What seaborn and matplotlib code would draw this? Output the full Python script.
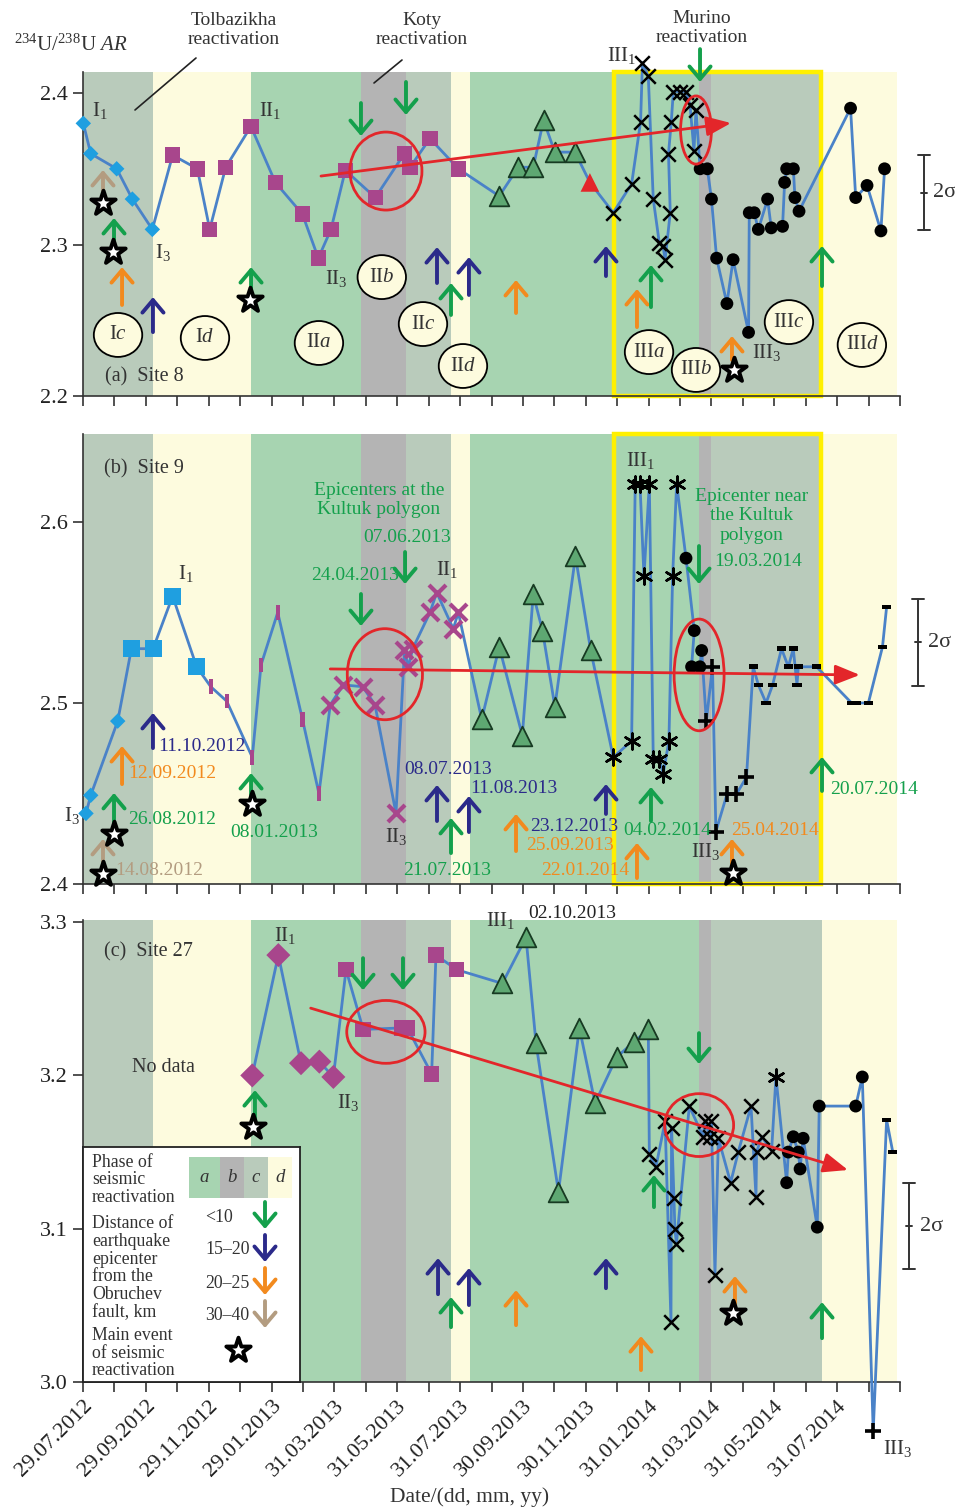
import numpy as np
import matplotlib
matplotlib.use("Agg")
import matplotlib.pyplot as plt
import seaborn as sns
from matplotlib.patches import Ellipse, Rectangle
from matplotlib.path import Path
from matplotlib.lines import Line2D

sns.set_style("ticks")
plt.rcParams.update({
    "font.family": ["Liberation Serif", "DejaVu Serif"],
    "mathtext.fontset": "custom",
    "mathtext.rm": "Liberation Serif",
    "mathtext.it": "Liberation Serif:italic",
    "mathtext.bf": "Liberation Serif:bold",
    "axes.edgecolor": "#333333",
})

# ---------------------------------------------------------------------------
# Time axis: days counted from 29.07.2012, tick every month, label every 2nd
# ---------------------------------------------------------------------------
X_MAX = 793
TICK_STEP = 30.5
TICK_LABELS = ["29.07.2012", "29.09.2012", "29.11.2012", "29.01.2013", "31.03.2013",
               "31.05.2013", "31.07.2013", "30.09.2013", "30.11.2013", "31.01.2014",
               "31.03.2014", "31.05.2014", "31.07.2014"]

# Phases of seismic reactivation (a, b, c, d) along the time axis
PHASE_EDGES = [0, 68, 163, 270, 313.5, 357, 375.6, 598, 609.5, 717, 790]
PHASE_CODE = ["c", "d", "a", "b", "c", "d", "a", "b", "c", "d"]
MURINO_SPAN = [515.4, 716.3]

# ---------------------------------------------------------------------------
# Site 8: 234U/238U activity ratio
# ---------------------------------------------------------------------------
S8_DIAM_DAY = [0.3, 7.5, 32.7, 47.9, 67.3]
S8_DIAM_VAL = [2.380, 2.360, 2.350, 2.330, 2.310]
S8_SQ_DAY = [87, 111, 123, 138.5, 163, 186.7, 213, 228.4, 240.7, 254.6, 283.7, 311.9, 317.4, 336.8, 364.3]
S8_SQ_VAL = [2.359, 2.350, 2.310, 2.351, 2.378, 2.341, 2.320, 2.291, 2.310, 2.349, 2.331, 2.360, 2.351, 2.370, 2.350]
S8_TRI_DAY = [404, 422.5, 437, 447, 458, 477.5]
S8_TRI_VAL = [2.332, 2.351, 2.351, 2.382, 2.361, 2.361]
S8_RTRI_DAY = [492]
S8_RTRI_VAL = [2.341]
S8_X_DAY = [514.7, 532.5, 541.2, 543, 548.7, 553.5, 559.4, 563, 565, 570, 568.3, 571, 573, 579.5, 585.4, 589.2, 593, 595]
S8_X_VAL = [2.321, 2.340, 2.381, 2.420, 2.411, 2.330, 2.301, 2.299, 2.290, 2.321, 2.360, 2.381, 2.401, 2.401, 2.401, 2.392, 2.362, 2.389]
S8_DOT_DAY = [599, 606, 610, 615, 625, 631, 646, 646.7, 651.5, 655.5, 664.5, 668, 679, 681, 683, 689.5, 691, 695,
              745, 750, 761, 774.5, 778]
S8_DOT_VAL = [2.350, 2.350, 2.330, 2.291, 2.261, 2.290, 2.242, 2.321, 2.321, 2.310, 2.330, 2.311, 2.312, 2.341, 2.350,
              2.350, 2.331, 2.322, 2.390, 2.331, 2.339, 2.309, 2.350]

# ---------------------------------------------------------------------------
# Site 9
# ---------------------------------------------------------------------------
S9_DIAM_DAY = [2.9, 7.5, 33.7]
S9_DIAM_VAL = [2.439, 2.449, 2.490]
S9_SQ_DAY = [47, 68, 87, 110.3]
S9_SQ_VAL = [2.530, 2.530, 2.559, 2.520]
S9_VBAR_DAY = [124, 139.5, 164.3, 172.8, 189, 213, 229]
S9_VBAR_VAL = [2.509, 2.501, 2.470, 2.521, 2.550, 2.491, 2.450]
S9_MX_DAY = [240, 252.7, 271.5, 283.4, 303.8, 312, 315.7, 320, 336.8, 343.3, 359.4, 364.3]
S9_MX_VAL = [2.499, 2.510, 2.509, 2.499, 2.439, 2.529, 2.520, 2.530, 2.550, 2.561, 2.541, 2.550]
S9_TRI_DAY = [387, 404, 426.4, 437, 446, 458, 478, 492.8]
S9_TRI_VAL = [2.491, 2.531, 2.482, 2.560, 2.540, 2.498, 2.581, 2.529]
S9_AST_DAY = [514.7, 532.5, 536, 540.6, 544.5, 549.7, 553.5, 559.4, 563.2, 568.7, 572.3, 576.2]
S9_AST_VAL = [2.470, 2.479, 2.621, 2.621, 2.570, 2.621, 2.469, 2.469, 2.461, 2.479, 2.570, 2.621]
S9_DOT_DAY = [585.3, 593.3, 590.7, 598.8, 600.5]
S9_DOT_VAL = [2.580, 2.540, 2.520, 2.520, 2.529]
S9_PLUS_DAY = [605, 611, 614.3, 625, 634, 644]
S9_PLUS_VAL = [2.490, 2.520, 2.429, 2.4495, 2.4495, 2.459]
S9_HBAR_DAY = [650.5, 655.5, 663, 669.4, 678, 684.6, 689.4, 693, 694.3, 712, 746, 751, 762.3, 776, 780]
S9_HBAR_VAL = [2.520, 2.510, 2.500, 2.510, 2.530, 2.520, 2.530, 2.510, 2.520, 2.520, 2.500, 2.500, 2.500, 2.531, 2.553]

# ---------------------------------------------------------------------------
# Site 27
# ---------------------------------------------------------------------------
S27_DIAM_DAY = [164.3, 189.6, 211.6, 229.4, 243]
S27_DIAM_VAL = [3.200, 3.2785, 3.208, 3.209, 3.199]
S27_SQ_DAY = [255.3, 272, 309.3, 314.8, 338.4, 342.6, 362.7]
S27_SQ_VAL = [3.269, 3.230, 3.231, 3.231, 3.201, 3.2785, 3.269]
S27_TRI_DAY = [407, 430, 439.7, 461.5, 481.8, 497, 518, 535, 548.7]
S27_TRI_VAL = [3.260, 3.290, 3.221, 3.124, 3.231, 3.182, 3.212, 3.222, 3.230]
S27_X_DAY = [549.7, 556, 565, 570.7, 571.3, 573.6, 574.5, 576, 588.5, 602, 603.6, 608.6, 610, 613.4, 616.7, 628.6,
             636, 648.4, 653.2, 653.8, 658.7, 668.4]
S27_X_VAL = [3.149, 3.140, 3.170, 3.039, 3.166, 3.120, 3.100, 3.090, 3.180, 3.160, 3.170, 3.160, 3.170, 3.070, 3.159,
             3.130, 3.150, 3.180, 3.121, 3.150, 3.160, 3.151]
S27_AST_DAY = [672.6]
S27_AST_VAL = [3.199]
S27_DOT_DAY = [683, 684.6, 689.4, 694.3, 696, 699, 712.7, 714.6, 750, 756.4]
S27_DOT_VAL = [3.130, 3.150, 3.160, 3.150, 3.139, 3.159, 3.101, 3.180, 3.180, 3.199]
S27_PLUS_DAY = [767]
S27_PLUS_VAL = [2.968]
S27_HBAR_DAY = [780, 786]
S27_HBAR_VAL = [3.171, 3.150]

# ---------------------------------------------------------------------------
# Earthquakes: day, arrow tail / tip level, distance class (km)
# ---------------------------------------------------------------------------
EQ8_DAY = [19.4, 30.1, 37.9, 67.9, 163.1, 269.8, 313.5, 343.6, 374.6, 357.2, 420.3, 507.6, 537.7, 551.3, 598.9, 629.9, 717.3]
EQ8_TAIL = [2.3314, 2.2997, 2.2601, 2.2422, 2.2667, 2.3934, 2.4073, 2.2746, 2.2667, 2.2535, 2.2548, 2.2792, 2.2455,
            2.2587, 2.4290, 2.2238, 2.2726]
EQ8_TIP = [2.3492, 2.3175, 2.2851, 2.2653, 2.2851, 2.3716, 2.3855, 2.2983, 2.2917, 2.2746, 2.2766, 2.2990, 2.2706,
           2.2865, 2.4073, 2.2396, 2.2990]
EQ_CLS = ["30–40", "<10", "20–25", "15–20", "<10", "<10", "<10", "15–20", "15–20", "<10", "20–25", "15–20", "20–25",
          "<10", "<10", "20–25", "<10"]

EQ9_DAY = [19.4, 30.1, 37.9, 67.9, 163.1, 269.8, 312.6, 343.6, 374.6, 357.2, 420.3, 507.6, 537.7, 551.3, 597.9, 629.9, 717.3]
EQ9_TAIL = [2.4088, 2.4282, 2.4552, 2.4751, 2.4420, 2.5602, 2.5834, 2.4348, 2.4287, 2.4171, 2.4182, 2.4387, 2.4033,
            2.4348, 2.5867, 2.4088, 2.4514]
EQ9_TIP = [2.4249, 2.4503, 2.4762, 2.4945, 2.4613, 2.5425, 2.5657, 2.4547, 2.4486, 2.4365, 2.4387, 2.4552, 2.4227,
           2.4536, 2.5657, 2.4249, 2.4702]

EQ27_DAY = [166.9, 271.8, 310.6, 344.6, 374.6, 357.2, 420.3, 507.6, 541.6, 554.2, 597.9, 632.8, 717.3]
EQ27_TAIL = [3.1708, 3.2765, 3.2765, 3.0573, 3.0502, 3.0358, 3.0371, 3.0612, 3.0078, 3.1141, 3.2276, 3.0502, 3.0286]
EQ27_TIP = [3.1904, 3.2556, 3.2556, 3.0808, 3.0743, 3.0554, 3.0599, 3.0808, 3.0299, 3.1350, 3.2074, 3.0691, 3.0521]
EQ27_CLS = ["<10", "<10", "<10", "15–20", "15–20", "<10", "20–25", "15–20", "20–25", "<10", "<10", "20–25", "<10"]

# Main events of seismic reactivation
STAR8_DAY = [19.4, 29.1, 162.1, 631.9]
STAR8_VAL = [2.3274, 2.295, 2.2634, 2.2172]
STAR9_DAY = [19.4, 30.1, 164, 630.9]
STAR9_VAL = [2.4055, 2.4276, 2.4442, 2.4061]
STAR27_DAY = [165, 630.9]
STAR27_VAL = [3.1663, 3.0449]

# Trend arrows (start, end) and highlighted groups (centre day, centre value, width, height)
TREND8_DAY, TREND8_VAL = [231, 629], [2.3452, 2.3802]
TREND9_DAY, TREND9_VAL = [240, 754], [2.5188, 2.5155]
TREND27_DAY, TREND27_VAL = [221, 742.5], [3.2439, 3.1383]
RING8 = [(294, 2.3485, 70, 0.0515), (595, 2.3756, 30, 0.045)]
RING9 = [(293, 2.5159, 73, 0.0503), (598, 2.5155, 48.5, 0.0617)]
RING27 = [(294, 3.2284, 76, 0.041), (598, 3.1676, 67, 0.041)]

# ---------------------------------------------------------------------------
# Styles
# ---------------------------------------------------------------------------
LINE_BLUE = "#4a82c8"
SKY = "#1f9fe0"
MAG = "#a8468c"
TRI_GREEN = "#5ea872"
RED = "#e3262a"
TXT = "#333333"
PHASE_COLOR = {"a": "#a7d4b1", "b": "#b4b4b4", "c": "#b9cbbb", "d": "#fdfbde"}
CLASS_COLOR = {"<10": "#14a04c", "15–20": "#2b2a8a", "20–25": "#f28a1e", "30–40": "#b39c80"}

_codes = [Path.MOVETO, Path.LINETO, Path.LINETO, Path.LINETO, Path.CLOSEPOLY]
HBAR_PATH = Path([(-1, -0.5), (1, -0.5), (1, 0.5), (-1, 0.5), (-1, -0.5)], _codes)
VBAR_PATH = Path([(-0.3, -1), (0.3, -1), (0.3, 1), (-0.3, 1), (-0.3, -1)], _codes)

STYLES = {
    "blue_diamond": dict(marker="D", s=62, color=SKY, edgecolors="none"),
    "blue_square": dict(marker="s", s=150, color=SKY, edgecolors="none"),
    "mag_square": dict(marker="s", s=125, color=MAG, edgecolors="none"),
    "mag_diamond": dict(marker="D", s=150, color=MAG, edgecolors="none"),
    "mag_bar": dict(marker=VBAR_PATH, s=110, color=MAG, edgecolors="none"),
    "mag_x": dict(marker="x", s=150, color=MAG, linewidths=3),
    "tri": dict(marker="^", s=200, facecolors=TRI_GREEN, edgecolors="#173a22", linewidths=1.3),
    "red_tri": dict(marker="^", s=180, color=RED, edgecolors="none"),
    "x": dict(marker="x", s=110, color="black", linewidths=1.8),
    "ast": dict(marker=(6, 2, 0), s=130, color="black", linewidths=1.8),
    "dot": dict(marker="o", s=85, color="black", edgecolors="none"),
    "plus": dict(marker="+", s=120, color="black", linewidths=2.6),
    "hbar": dict(marker=HBAR_PATH, s=45, color="black", edgecolors="none"),
}

W, H = 955, 1510
fig = plt.figure(figsize=(W / 100, H / 100), dpi=100)


def box(l, t, r, b):
    return [l / W, 1 - b / H, (r - l) / W, (b - t) / H]


def fpos(x, y):
    return x / W, 1 - y / H


ax_a = fig.add_axes(box(83, 72, 900, 396))
ax_b = fig.add_axes(box(83, 434, 900, 884))
ax_c = fig.add_axes(box(83, 920, 900, 1382))


def draw_panel(ax, series, ylim, yticks, labels_on):
    for x0, x1, code in zip(PHASE_EDGES[:-1], PHASE_EDGES[1:], PHASE_CODE):
        ax.axvspan(x0, x1, color=PHASE_COLOR[code], lw=0, zorder=0)
    days = np.concatenate([np.asarray(d, float) for _, d, _ in series])
    vals = np.concatenate([np.asarray(v, float) for _, _, v in series])
    sns.lineplot(x=days, y=vals, sort=False, estimator=None, color=LINE_BLUE, lw=2.0, ax=ax, zorder=3)
    ax.lines[-1].set_clip_on(False)
    for key, d, v in series:
        ax.scatter(d, v, zorder=4, clip_on=False, **STYLES[key])
    ax.set_xlim(0, X_MAX)
    ax.set_ylim(*ylim)
    ax.set_xlabel("")
    ax.set_ylabel("")
    ticks = np.arange(27) * TICK_STEP
    if labels_on:
        labs = [TICK_LABELS[i // 2] if (i % 2 == 0 and i // 2 < len(TICK_LABELS)) else "" for i in range(len(ticks))]
    else:
        labs = [""] * len(ticks)
    ax.set_xticks(ticks, labs)
    ax.set_yticks(yticks, [f"{v:.1f}" for v in yticks])
    ax.tick_params(axis="both", direction="out", length=7, width=1.2, color="#333333",
                   labelcolor="#222222", labelsize=16)
    ax.tick_params(axis="y", pad=4)
    for lab in ax.get_xticklabels():
        lab.set_rotation(45)
        lab.set_ha("right")
        lab.set_va("top")
        lab.set_rotation_mode("anchor")
    for side in ("top", "right"):
        ax.spines[side].set_visible(False)
    for side in ("left", "bottom"):
        ax.spines[side].set_linewidth(1.2)


def draw_events(ax, days, tails, tips, classes):
    for d, t0, t1, cls in zip(days, tails, tips, classes):
        ax.annotate("", xy=(d, t1), xytext=(d, t0), annotation_clip=False, zorder=5,
                    arrowprops=dict(arrowstyle="->,head_length=0.45,head_width=0.38",
                                    color=CLASS_COLOR[cls], lw=2.8, shrinkA=0, shrinkB=0,
                                    mutation_scale=20))


def draw_stars(ax, days, vals):
    ax.scatter(days, vals, marker="*", s=340, facecolors="white", edgecolors="black",
               linewidths=2.8, zorder=6, clip_on=False)


def draw_trend(ax, days, vals, rings):
    ax.annotate("", xy=(days[1], vals[1]), xytext=(days[0], vals[0]), annotation_clip=False, zorder=6,
                arrowprops=dict(arrowstyle="-|>,head_length=0.75,head_width=0.3", color=RED, lw=2,
                                shrinkA=0, shrinkB=0, mutation_scale=20))
    for cx, cy, w, h in rings:
        ax.add_patch(Ellipse((cx, cy), w, h, fill=False, ec=RED, lw=2, zorder=6))


def sigma_bar(ax, x, lo, hi, tx):
    kw = dict(color="#333333", lw=1.4, clip_on=False, zorder=5)
    ax.plot([x, x], [lo, hi], **kw)
    for y in (lo, hi):
        ax.plot([x - 6, x + 6], [y, y], **kw)
    mid = (lo + hi) / 2
    ax.plot([x - 3, x + 3], [mid, mid], **kw)
    ax.text(tx, mid, "2σ", fontsize=16, va="center", ha="left", color=TXT)


def murino_box(ax):
    ax.add_patch(Rectangle((MURINO_SPAN[0], 0), MURINO_SPAN[1] - MURINO_SPAN[0], 1,
                           transform=ax.get_xaxis_transform(), fill=False, ec="#fff000",
                           lw=3.2, zorder=2.5, clip_on=False))


def label(ax, x, y, s, size=14, color=TXT, ha="center", va="center", **kw):
    ax.text(x, y, s, fontsize=size, color=color, ha=ha, va=va, zorder=7, **kw)


# ---------------------------- panel (a) ------------------------------------
draw_panel(ax_a, [("blue_diamond", S8_DIAM_DAY, S8_DIAM_VAL), ("mag_square", S8_SQ_DAY, S8_SQ_VAL),
                  ("tri", S8_TRI_DAY, S8_TRI_VAL), ("red_tri", S8_RTRI_DAY, S8_RTRI_VAL),
                  ("x", S8_X_DAY, S8_X_VAL), ("dot", S8_DOT_DAY, S8_DOT_VAL)],
           (2.2, 2.4139), [2.2, 2.3, 2.4], False)
murino_box(ax_a)
draw_events(ax_a, EQ8_DAY, EQ8_TAIL, EQ8_TIP, EQ_CLS)
draw_stars(ax_a, STAR8_DAY, STAR8_VAL)
draw_trend(ax_a, TREND8_DAY, TREND8_VAL, RING8)
sigma_bar(ax_a, 816.3, 2.3096, 2.359, 825)

phase_tags = [(r"I$\mathit{c}$", 34, 2.2403), (r"I$\mathit{d}$", 118.4, 2.2383), (r"II$\mathit{a}$", 229, 2.235),
              (r"II$\mathit{b}$", 290, 2.2785), (r"II$\mathit{c}$", 330, 2.2475), (r"II$\mathit{d}$", 368.8, 2.2198),
              (r"III$\mathit{a}$", 549.4, 2.229), (r"III$\mathit{b}$", 595, 2.2172), (r"III$\mathit{c}$", 685.2, 2.2488),
              (r"III$\mathit{d}$", 756, 2.2337)]
for s, x, y in phase_tags:
    ax_a.add_patch(Ellipse((x, y), 47, 0.029, fc=PHASE_COLOR["d"], ec="black", lw=1.3, zorder=6))
    label(ax_a, x, y, s, size=15)

label(ax_a, 16.5, 2.3888, r"I$_1$", 15)
label(ax_a, 77.6, 2.295, r"I$_3$", 15)
label(ax_a, 181.5, 2.3888, r"II$_1$", 15)
label(ax_a, 245.6, 2.2779, r"II$_3$", 15)
label(ax_a, 523, 2.425, r"III$_1$", 15)
label(ax_a, 663, 2.2284, r"III$_3$", 15)
label(ax_a, 21.4, 2.2125, "(a)  Site 8", 14.5, ha="left")

# ---------------------------- panel (b) ------------------------------------
draw_panel(ax_b, [("blue_diamond", S9_DIAM_DAY, S9_DIAM_VAL), ("blue_square", S9_SQ_DAY, S9_SQ_VAL),
                  ("mag_bar", S9_VBAR_DAY, S9_VBAR_VAL), ("mag_x", S9_MX_DAY, S9_MX_VAL),
                  ("tri", S9_TRI_DAY, S9_TRI_VAL), ("ast", S9_AST_DAY, S9_AST_VAL),
                  ("dot", S9_DOT_DAY, S9_DOT_VAL), ("plus", S9_PLUS_DAY, S9_PLUS_VAL),
                  ("hbar", S9_HBAR_DAY, S9_HBAR_VAL)],
           (2.4, 2.6486), [2.4, 2.5, 2.6], False)
murino_box(ax_b)
draw_events(ax_b, EQ9_DAY, EQ9_TAIL, EQ9_TIP, EQ_CLS)
draw_stars(ax_b, STAR9_DAY, STAR9_VAL)
draw_trend(ax_b, TREND9_DAY, TREND9_VAL, RING9)
sigma_bar(ax_b, 810.4, 2.5094, 2.5575, 820)

G, N, O, T = CLASS_COLOR["<10"], CLASS_COLOR["15–20"], CLASS_COLOR["20–25"], CLASS_COLOR["30–40"]
date_notes = [("14.08.2012", 31, 2.4072, T), ("26.08.2012", 43.7, 2.4359, G), ("12.09.2012", 43.7, 2.4613, O),
              ("11.10.2012", 72.8, 2.4762, N), ("08.01.2013", 142.7, 2.4282, G), ("24.04.2013", 221.3, 2.5707, G),
              ("07.06.2013", 271.8, 2.5912, G), ("08.07.2013", 311.6, 2.4635, N), ("11.08.2013", 375.6, 2.453, N),
              ("21.07.2013", 310.6, 2.4077, G), ("23.12.2013", 433.9, 2.432, N), ("25.09.2013", 430, 2.421, O),
              ("22.01.2014", 444.5, 2.4077, O), ("04.02.2014", 524, 2.4298, G), ("25.04.2014", 629, 2.4298, O),
              ("20.07.2014", 725, 2.452, G)]
for s, x, y, c in date_notes:
    label(ax_b, x, y, s, 14, color=c, ha="left")
label(ax_b, 287.3, 2.6122, "Epicenters at the\nKultuk polygon", 14, color=G, linespacing=1.15)
label(ax_b, 649.3, 2.6033, "Epicenter near\nthe Kultuk\npolygon", 14, color=G, linespacing=1.2)
label(ax_b, 655, 2.5779, "19.03.2014", 14, color=G)

label(ax_b, 540.6, 2.6337, r"III$_1$", 15)
label(ax_b, 100, 2.5718, r"I$_1$", 15)
label(ax_b, -10.7, 2.4376, r"I$_3$", 15)
label(ax_b, 353, 2.5735, r"II$_1$", 15)
label(ax_b, 303.8, 2.426, r"II$_3$", 15)
label(ax_b, 604.7, 2.4177, r"III$_3$", 15)
label(ax_b, 20, 2.6293, "(b)  Site 9", 14.5, ha="left")

# ---------------------------- panel (c) ------------------------------------
draw_panel(ax_c, [("mag_diamond", S27_DIAM_DAY, S27_DIAM_VAL), ("mag_square", S27_SQ_DAY, S27_SQ_VAL),
                  ("tri", S27_TRI_DAY, S27_TRI_VAL), ("x", S27_X_DAY, S27_X_VAL),
                  ("ast", S27_AST_DAY, S27_AST_VAL), ("dot", S27_DOT_DAY, S27_DOT_VAL),
                  ("plus", S27_PLUS_DAY, S27_PLUS_VAL), ("hbar", S27_HBAR_DAY, S27_HBAR_VAL)],
           (3.0, 3.3014), [3.0, 3.1, 3.2, 3.3], True)
draw_events(ax_c, EQ27_DAY, EQ27_TAIL, EQ27_TIP, EQ27_CLS)
draw_stars(ax_c, STAR27_DAY, STAR27_VAL)
draw_trend(ax_c, TREND27_DAY, TREND27_VAL, RING27)
sigma_bar(ax_c, 801.7, 3.0735, 3.130, 812.4)

label(ax_c, 196, 3.2915, r"II$_1$", 15)
label(ax_c, 257.2, 3.1826, r"II$_3$", 15)
label(ax_c, 404.7, 3.3013, r"III$_1$", 15)
label(ax_c, 474.6, 3.3059, "02.10.2013", 14, color="#222222")
label(ax_c, 791, 2.9569, r"III$_3$", 15)
label(ax_c, 77.6, 3.2054, "No data", 14.5)
label(ax_c, 20, 3.2804, "(c)  Site 27", 14.5, ha="left")

# ---------------------------- legend box -----------------------------------
lg = fig.add_axes(box(83, 1147, 300, 1382))
lg.set_xlim(0, 217)
lg.set_ylim(235, 0)
lg.set_xticks([])
lg.set_yticks([])
lg.set_facecolor("white")
for sp in lg.spines.values():
    sp.set_visible(True)
    sp.set_color("#222222")
    sp.set_linewidth(1.3)
for (x0, x1), code in zip([(106, 137), (137, 161), (161, 185), (185, 209)], "abcd"):
    lg.add_patch(Rectangle((x0, 10), x1 - x0, 41, color=PHASE_COLOR[code], lw=0))
    lg.text((x0 + x1) / 2, 31, code, fontsize=13.5, fontstyle="italic", ha="center", va="center", color=TXT)
lg.text(9, 33, "Phase of\nseismic\nreactivation", fontsize=12.8, ha="left", va="center", color=TXT,
        linespacing=1.05)
lg.text(9, 121, "Distance of\nearthquake\nepicenter\nfrom the\nObruchev\nfault, km", fontsize=12.8,
        ha="left", va="center", color=TXT, linespacing=1.05)
lg.text(9, 206, "Main event\nof seismic\nreactivation", fontsize=12.8, ha="left", va="center", color=TXT,
        linespacing=1.05)
for cls, yc in zip(["<10", "15–20", "20–25", "30–40"], [70, 103, 136, 169]):
    lg.text(122, yc, cls, fontsize=12.8, ha="left", va="center", color=TXT)
    lg.annotate("", xy=(182, yc + 12), xytext=(182, yc - 15),
                arrowprops=dict(arrowstyle="->,head_length=0.45,head_width=0.38", color=CLASS_COLOR[cls],
                                lw=2.8, shrinkA=0, shrinkB=0, mutation_scale=20))
lg.scatter([155], [203], marker="*", s=340, facecolors="white", edgecolors="black", linewidths=2.8, zorder=5)

# ---------------------------- figure texts ----------------------------------
fig.text(*fpos(14, 45), r"$^{234}$U/$^{238}$U $\mathit{AR}$", fontsize=15, ha="left", va="center", color=TXT)
fig.text(*fpos(234, 30), "Tolbazikha\nreactivation", fontsize=14, ha="center", va="center", color=TXT,
         linespacing=1.2)
fig.text(*fpos(422, 30), "Koty\nreactivation", fontsize=14, ha="center", va="center", color=TXT, linespacing=1.2)
fig.text(*fpos(702, 28), "Murino\nreactivation", fontsize=14, ha="center", va="center", color=TXT,
         linespacing=1.2)
for (x0, y0), (x1, y1) in [((196, 58), (135, 110)), ((402, 60), (374, 83))]:
    p0, p1 = fpos(x0, y0), fpos(x1, y1)
    fig.add_artist(Line2D([p0[0], p1[0]], [p0[1], p1[1]], color="#222222", lw=1.2, transform=fig.transFigure))
fig.text(*fpos(470, 1497), "Date/(dd, mm, yy)", fontsize=15.5, ha="center", va="center", color=TXT)

fig.savefig("out.png", dpi=100)
